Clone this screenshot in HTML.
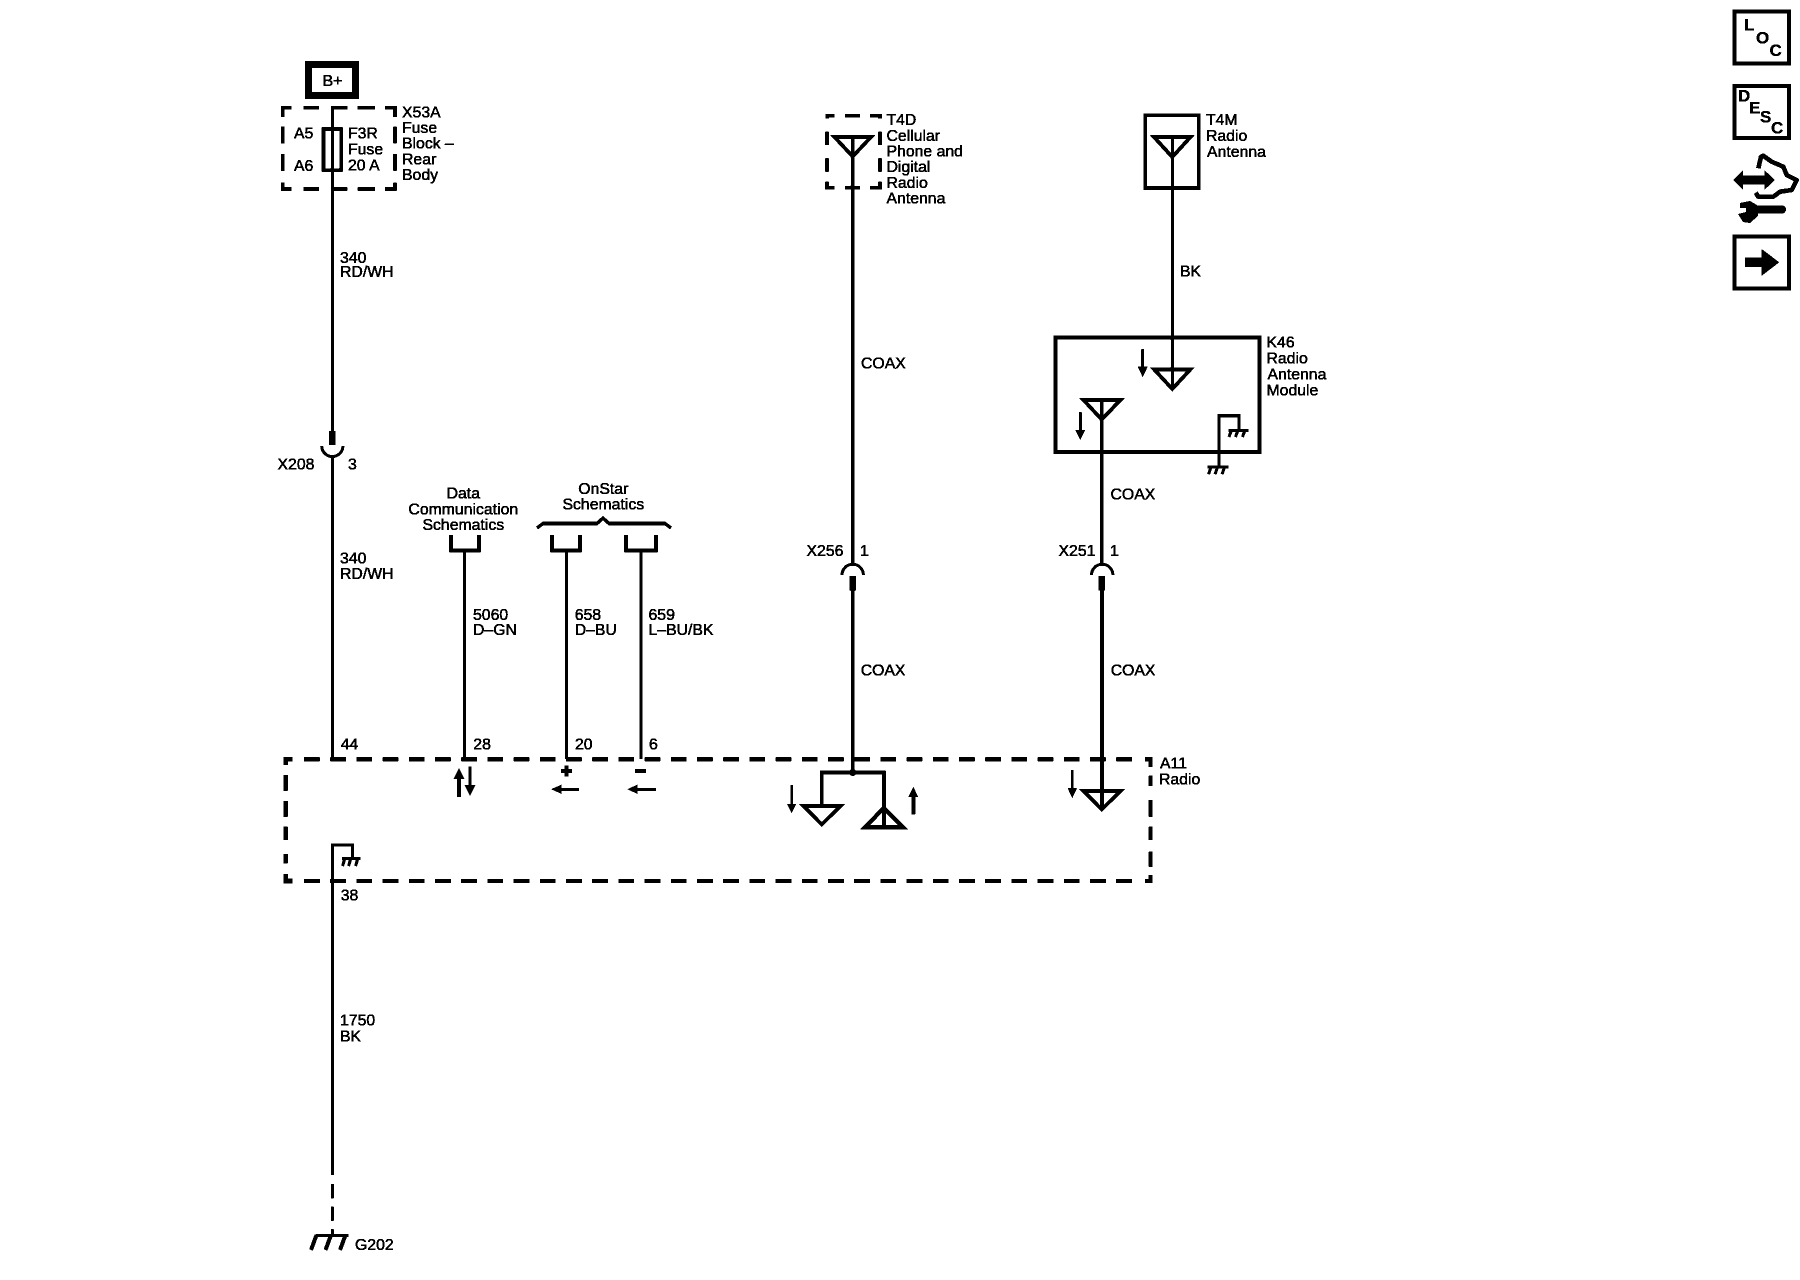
<!DOCTYPE html>
<html><head><meta charset="utf-8"><title>Radio wiring schematic</title>
<style>
html,body{margin:0;padding:0;background:#fff;width:1800px;height:1280px;overflow:hidden}
svg{display:block}
text{font-family:"Liberation Sans",sans-serif;font-size:15.8px;fill:#000;stroke:#000;stroke-width:.55px}
.m{text-anchor:middle}
.b{font-weight:bold;font-size:17px;stroke-width:.3px}
.w{stroke:#000;stroke-width:3;fill:none}
.c{stroke:#000;stroke-width:3.8;fill:none}
.d{stroke:#000;stroke-width:3.6;fill:none}
.t{stroke:#000;stroke-width:3.8;fill:none;stroke-linejoin:miter}
.g{stroke:#000;stroke-width:3;fill:none}
.f{fill:#000;stroke:none}
</style></head><body>
<svg width="1800" height="1280" viewBox="0 0 1800 1280" xmlns="http://www.w3.org/2000/svg">
<defs><filter id="th" x="0" y="0" width="100%" height="100%" filterUnits="userSpaceOnUse" primitiveUnits="userSpaceOnUse" color-interpolation-filters="sRGB"><feComponentTransfer><feFuncA type="discrete" tableValues="0 1"/></feComponentTransfer></filter></defs>
<rect width="1800" height="1280" fill="#fff"/>
<g filter="url(#th)">

<!-- B+ and fuse -->
<rect x="308.5" y="64.5" width="47" height="31" fill="none" stroke="#000" stroke-width="7"/>
<text class="m" x="332.5" y="86">B+</text>
<path class="d" d="M282.8,117V107.8H291.7M303.3,107.8H319M331.7,107.8H347.3M357.7,107.8H375M385,107.8H395V117
M282.8,126.7V143.3M282.8,154V170.7M282.8,182.7V189H291.7M303.3,189H319M331.7,189H347.3M357.7,189H375M385,189H395V182.7
M395,126.7V143.3M395,154V170.7"/>
<rect x="323.5" y="129" width="17.5" height="41" fill="none" stroke="#000" stroke-width="3.5"/>
<path class="w" d="M332.3,106V431"/>
<rect class="f" x="328.8" y="431" width="6.8" height="14"/>
<path class="w" d="M321.7,446A10.6,10.6 0 0 0 342.9,446"/>
<path class="w" d="M332.3,456V760"/>
<text x="294" y="138.7">A5</text>
<text x="294" y="171">A6</text>
<text x="348" y="138.7">F3R</text>
<text x="348" y="154.3">Fuse</text>
<text x="348" y="170.7">20 A</text>
<text x="402" y="117.5">X53A</text>
<text x="402" y="133">Fuse</text>
<text x="402" y="148.5">Block –</text>
<text x="402" y="164.3">Rear</text>
<text x="402" y="180">Body</text>
<text x="340" y="263">340</text>
<text x="340" y="277">RD/WH</text>
<text x="277.5" y="469.3">X208</text>
<text x="348" y="469.3">3</text>
<text x="340" y="563.3">340</text>
<text x="340" y="579">RD/WH</text>

<!-- Data / OnStar -->
<text class="m" x="463.3" y="498.3">Data</text>
<text class="m" x="463.3" y="514.3">Communication</text>
<text class="m" x="463.3" y="530">Schematics</text>
<text class="m" x="603.3" y="494">OnStar</text>
<text class="m" x="603.3" y="509.3">Schematics</text>
<path stroke="#000" stroke-width="3.4" fill="none" d="M537,528L543,523.5H597L603,518L609,523.5H665L671,528"/>
<path class="d" d="M451,535V550.5H479V535M552,535V550.5H580V535M626,535V550.5H656V535"/>
<path class="w" d="M464.3,551V759M566.5,551V759M641,551V759"/>
<text x="473" y="620">5060</text><text x="473" y="635">D–GN</text>
<text x="574.7" y="620">658</text><text x="574.7" y="635">D–BU</text>
<text x="648.5" y="620">659</text><text x="648.5" y="635">L–BU/BK</text>
<text x="340.7" y="749.3">44</text>
<text x="473.3" y="749.3">28</text>
<text x="575" y="749.3">20</text>
<text x="649" y="749.3">6</text>
<text x="340.7" y="900.7">38</text>

<!-- A11 box -->
<path stroke="#000" stroke-width="4" fill="none" stroke-dasharray="15.8 10.4" d="M304,759.3H1133"/>
<path stroke="#000" stroke-width="4" fill="none" stroke-dasharray="15.8 10.4" d="M304,881H1133"/>
<path stroke="#000" stroke-width="4.4" fill="none" d="M292.7,759.3H285.7V765M285.7,775V790.7M285.7,801V816.7M285.7,826.7V840M285.7,854V863.3M285.7,874V881H292.7"/>
<path stroke="#000" stroke-width="4" fill="none" d="M1145,759.3H1150.7V767M1150.7,775.7V786M1150.7,800V816.7M1150.7,826.7V840M1150.7,851.7V866.7M1150.7,875V881H1145"/>
<text x="1160" y="768.3">A11</text>
<text x="1159" y="784.3">Radio</text>

<!-- Inside A11 left -->
<path class="w" d="M332.3,1175V845H352.7V858"/>
<path class="g" d="M342,858.5H360.7"/>
<path class="g" d="M345,858L342.5,866M351,858L348.5,866M358,858L355.5,866"/>
<path class="w" d="M332.3,1184V1198.3M332.3,1206.7V1220.7M332.3,1229.3V1235"/>
<path stroke="#000" stroke-width="3" fill="none" d="M316,1235.5H348.3"/>
<path stroke="#000" stroke-width="4" fill="none" d="M316.5,1235L311,1250M331,1235L325.5,1250M345.5,1235L340,1250"/>
<text x="355" y="1250">G202</text>
<text x="340" y="1025.7">1750</text>
<text x="340" y="1041.7">BK</text>

<!-- Arrows at pins -->
<path class="f" d="M459,768L464.5,779H461V796.7H457V779H453.5Z"/>
<path class="f" d="M470,796L475.5,785H471.5V766.7H468.5V785H464.5Z"/>
<rect class="f" x="561" y="769" width="11" height="4"/>
<rect class="f" x="564.5" y="765.5" width="4" height="11"/>
<rect class="f" x="635" y="769" width="11" height="4"/>
<path class="f" d="M551,789.3L561.7,784.5V788H579V791H561.7V794Z"/>
<path class="f" d="M627.3,789.3L637.7,784.5V788H656V791H637.7V794Z"/>

<!-- T4D -->
<path class="d" d="M827.4,118.5V115.7H834.3M845,115.7H860M870,115.7H880V118.5M827,131.7V145M827,158.3V171.7M827,181.7V187.7H834.3M845,187.7H860M870,187.7H880V181.7M880,131.7V145M880,158.3V171.7"/>
<path class="t" d="M834.5,137H871L852.7,156.5Z"/>
<path class="c" d="M852.7,137V565"/>
<text x="886.5" y="125">T4D</text>
<text x="886.5" y="141">Cellular</text>
<text x="886.5" y="156.7">Phone and</text>
<text x="886.5" y="172.2">Digital</text>
<text x="886.5" y="187.9">Radio</text>
<text x="886.5" y="203.7">Antenna</text>
<text x="861" y="368.5">COAX</text>
<text x="806.5" y="556">X256</text>
<text x="860" y="556">1</text>
<path class="w" d="M842,575A10.7,10.7 0 0 1 863.4,575"/>
<rect class="f" x="849.3" y="576" width="6.8" height="14.7"/>
<path class="c" d="M852.7,590V772"/>
<text x="860.7" y="675.7">COAX</text>
<path class="c" d="M821.7,806V772.7H884V827"/>
<circle class="f" cx="852.7" cy="772.5" r="3.6"/>
<path class="t" d="M803.5,806H840.5L821.7,824.5Z"/>
<path stroke="#000" stroke-width="4.2" fill="none" d="M883.8,808L865,827.3H903Z"/>
<path class="f" d="M791.7,813.3L796.3,804H793V785H790.4V804H787Z"/>
<path class="f" d="M913.3,786.7L918.3,797H915.3V814.3H911.3V797H908.3Z"/>

<!-- T4M -->
<rect x="1145.2" y="115.2" width="53.6" height="72.8" fill="none" stroke="#000" stroke-width="3.7"/>
<path class="t" d="M1154,137H1190.5L1172.3,157Z"/>
<path class="w" d="M1172.3,137V389"/>
<text x="1206" y="125">T4M</text>
<text x="1206" y="141">Radio</text>
<text x="1207" y="157">Antenna</text>
<text x="1180" y="276.7">BK</text>

<!-- K46 -->
<rect x="1055.3" y="337.7" width="204.4" height="114.3" fill="none" stroke="#000" stroke-width="4"/>
<text x="1266.5" y="347.7">K46</text>
<text x="1266.5" y="363.3">Radio</text>
<text x="1267.5" y="379.4">Antenna</text>
<text x="1266.5" y="395.5">Module</text>
<path class="t" d="M1154,369.3H1190.5L1172.3,389Z"/>
<path class="f" d="M1142.7,377.3L1147.7,366.7H1144.2V349.3H1141.2V366.7H1137.7Z"/>
<path class="t" d="M1083.5,400H1120.5L1101.7,419.5Z"/>
<path class="c" d="M1101.7,400V565"/>
<path class="f" d="M1080.3,440L1085.3,430H1081.8V412.3H1078.8V430H1075.3Z"/>
<path class="w" d="M1219,466.7V415.7H1239V430"/>
<path stroke="#000" stroke-width="3" fill="none" d="M1228.3,430.5H1248.3M1207.7,467H1228.3"/>
<path class="g" d="M1231.5,430L1229,437M1238,430L1235.5,437M1245,430L1242.5,437M1211,467L1208.5,474.3M1217.5,467L1215,474.3M1224.5,467L1222,474.3"/>
<text x="1110.5" y="499.3">COAX</text>
<text x="1058.5" y="556">X251</text>
<text x="1110" y="556">1</text>
<path class="w" d="M1091.5,575A10.7,10.7 0 0 1 1112.9,575"/>
<rect class="f" x="1098.3" y="576" width="6.8" height="14.7"/>
<path class="c" d="M1102,590V810"/>
<text x="1110.7" y="675.7">COAX</text>
<path class="t" d="M1083.5,791H1120.5L1101.7,809.5Z"/>
<path class="f" d="M1072.3,798.3L1077,788.3H1073.7V770H1070.9V788.3H1067.6Z"/>

<!-- Right-side icons -->
<rect x="1734.3" y="11.3" width="54.7" height="52.4" fill="none" stroke="#000" stroke-width="4"/>
<text class="b" x="1744" y="30.7">L</text>
<text class="b" x="1756" y="43.3">O</text>
<text class="b" x="1769.5" y="56">C</text>
<rect x="1734.3" y="86" width="54.7" height="52" fill="none" stroke="#000" stroke-width="4"/>
<text class="b" x="1738" y="101.7">D</text>
<text class="b" x="1749" y="113.5">E</text>
<text class="b" x="1760" y="122.7">S</text>
<text class="b" x="1771" y="133.5">C</text>
<path class="f" d="M1733.3,180L1743,170.5V175.5H1764.3V170L1775,180L1764.3,190V184.5H1743V189.5Z"/>
<path stroke="#000" stroke-width="4.6" fill="none" stroke-linejoin="round" d="M1758.3,168.3L1761,156.7L1763.3,155.7L1771.7,161.7L1783.3,166.7L1786.7,175L1796.7,180L1791.7,190L1780,191.7L1773.3,196.7L1758.3,196.7L1755.7,192.7"/>
<path stroke="#000" stroke-width="8" stroke-linecap="round" fill="none" d="M1750,209.5H1782"/>
<path class="f" d="M1740,203L1750,201L1757,205L1758,216L1750,223L1743,222L1738,214L1746,212L1747,208L1740,208Z"/>
<rect x="1734.3" y="236.3" width="54.7" height="52.4" fill="none" stroke="#000" stroke-width="4"/>
<path class="f" d="M1745,257.7H1761.7V249L1779.3,262.3L1761.7,275.7V266.7H1745Z"/>
</g>
</svg>
</body></html>
